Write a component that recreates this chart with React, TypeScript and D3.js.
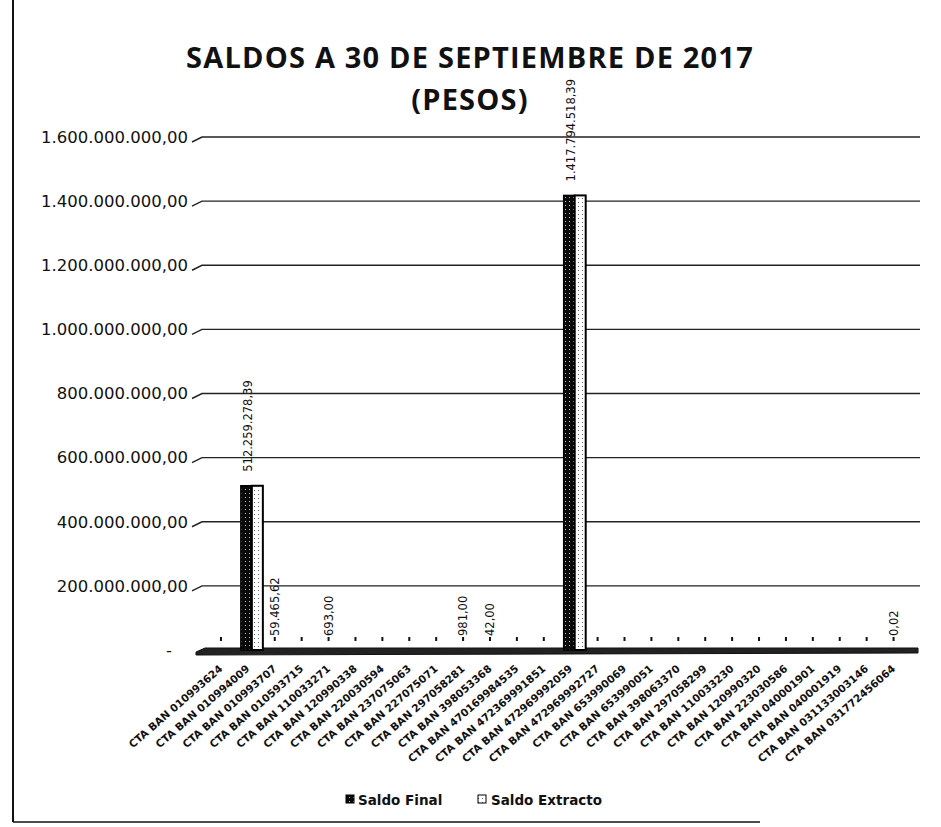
import React from "react";
import * as d3 from "d3";

const categories = [
  "CTA BAN 010993624", "CTA BAN 010994009", "CTA BAN 010993707", "CTA BAN 010593715",
  "CTA BAN 110033271", "CTA BAN 120990338", "CTA BAN 220030594", "CTA BAN 237075063",
  "CTA BAN 227075071", "CTA BAN 297058281", "CTA BAN 398053368", "CTA BAN 470169984535",
  "CTA BAN 472369991851", "CTA BAN 472969992059", "CTA BAN 472969992727", "CTA BAN 653990069",
  "CTA BAN 653990051", "CTA BAN 398063370", "CTA BAN 297058299", "CTA BAN 110033230",
  "CTA BAN 120990320", "CTA BAN 223030586", "CTA BAN 040001901", "CTA BAN 040001919",
  "CTA BAN 031133003146", "CTA BAN 031772456064",
];

const saldoFinal = [
  0, 512259278.39, 59465.62, 0, 693, 0, 0, 0, 0, 981, 42, 0, 0, 1417794518.39,
  0, 0, 0, 0, 0, 0, 0, 0, 0, 0, 0, 0.02,
];
const saldoExtracto = [
  0, 512259278.39, 59465.62, 0, 693, 0, 0, 0, 0, 981, 42, 0, 0, 1417794518.39,
  0, 0, 0, 0, 0, 0, 0, 0, 0, 0, 0, 0.02,
];

const yTicks = [0, 200000000, 400000000, 600000000, 800000000, 1000000000, 1200000000, 1400000000, 1600000000];

const title1 = "SALDOS A 30 DE SEPTIEMBRE DE 2017";
const title2 = "(PESOS)";
const seriesNames = ["Saldo Final", "Saldo Extracto"];

const locale = d3.formatLocale({ decimal: ",", thousands: ".", grouping: [3], currency: ["", ""] });
const fmt = locale.format(",.2f");

export default function App() {
  const W = 941, H = 827;
  const x = d3.scaleBand<string>().domain(categories).range([211.5, 911]).padding(0);
  const y = d3.scaleLinear().domain([0, 1600000000]).range([650, 137]);
  const bw = 11;
  const cx = (c: string) => (x(c) as number) + x.bandwidth() / 2;
  const y0 = y(0);
  const sans = "'DejaVu Sans', sans-serif";

  return (
    <svg width={W} height={H} style={{ position: "absolute", left: 0, top: 0, background: "#fff" }}>
      <defs>
        <pattern id="patDark" width="4" height="4" patternUnits="userSpaceOnUse">
          <rect width="4" height="4" fill="#0a0a0a" />
          <rect x="1" y="1" width="1" height="1" fill="#bbb" />
        </pattern>
        <pattern id="patLight" width="4" height="4" patternUnits="userSpaceOnUse">
          <rect width="4" height="4" fill="#fff" />
          <rect x="2" y="2" width="1" height="1" fill="#666" />
        </pattern>
      </defs>

      {/* frame */}
      <line x1={13} y1={0} x2={13} y2={822} stroke="#111" strokeWidth={2} />
      <line x1={13} y1={822} x2={760} y2={822} stroke="#111" strokeWidth={1.5} />

      {/* title */}
      <text x={470} y={68} textAnchor="middle" fontFamily="'Open Sans', sans-serif" fontWeight={700} fontSize={29} letterSpacing={1.2} fill="#111">{title1}</text>
      <text x={470} y={110} textAnchor="middle" fontFamily="'Open Sans', sans-serif" fontWeight={700} fontSize={29} letterSpacing={1.2} fill="#111">{title2}</text>

      {/* gridlines and y ticks */}
      {yTicks.map((t) => (
        <g key={t}>
          {t > 0 && (
            <path d={`M192,${y(t) + 5} L202,${y(t)} L920,${y(t)}`} fill="none" stroke="#222" strokeWidth={1.4} />
          )}
          <text x={t > 0 ? 188 : 172} y={y(t)} dy="0.35em" textAnchor="end" fontFamily={sans} fontSize={16.5} fill="#111">
            {t > 0 ? fmt(t) : "-"}
          </text>
        </g>
      ))}

      {/* floor / baseline */}
      <path d={`M196,${y0 + 2} L205,${y0 - 2} L918,${y0 - 2} L918,${y0 + 3} L196,${y0 + 5} Z`} fill="#222" stroke="#111" strokeWidth={1} />

      {/* bars */}
      {categories.map((c, i) => {
        const c0 = cx(c);
        const vF = saldoFinal[i];
        const vE = saldoExtracto[i];
        const hF = y0 - y(vF);
        const hE = y0 - y(vE);
        return (
          <g key={c}>
            {hF >= 2 ? (
              <rect x={c0 - bw} y={y(vF)} width={bw} height={hF} fill="url(#patDark)" stroke="#000" strokeWidth={1.5} />
            ) : (
              <rect x={c0 - 5} y={y0 - 13} width={2} height={4} fill="#111" />
            )}
            {hE >= 2 && (
              <rect x={c0} y={y(vE)} width={bw} height={hE} fill="url(#patLight)" stroke="#000" strokeWidth={2} />
            )}
          </g>
        );
      })}

      {/* data labels */}
      {categories.map((c, i) => {
        const v = saldoFinal[i];
        if (!(v > 0)) return null;
        const lx = cx(c);
        const ly = y(v) - 14;
        return (
          <text key={"l" + c} transform={`translate(${lx},${ly}) rotate(-90)`} textAnchor="start" fontFamily={sans} fontSize={11.5} fill="#111">
            {fmt(v)}
          </text>
        );
      })}

      {/* x labels */}
      {categories.map((c) => (
        <text key={"x" + c} transform={`translate(${cx(c) - 4},${667}) rotate(-41)`} textAnchor="end" dy="0.35em" fontFamily={sans} fontWeight={700} fontSize={10.5} fill="#111">
          {c}
        </text>
      ))}

      {/* legend */}
      <rect x={346} y={795} width={8} height={8} fill="url(#patDark)" stroke="#000" />
      <text x={358} y={805} fontFamily={sans} fontWeight={700} fontSize={13.5} fill="#111">{seriesNames[0]}</text>
      <rect x={478} y={795} width={8} height={8} fill="url(#patLight)" stroke="#000" />
      <text x={491} y={805} fontFamily={sans} fontWeight={700} fontSize={13.5} fill="#111">{seriesNames[1]}</text>
    </svg>
  );
}
